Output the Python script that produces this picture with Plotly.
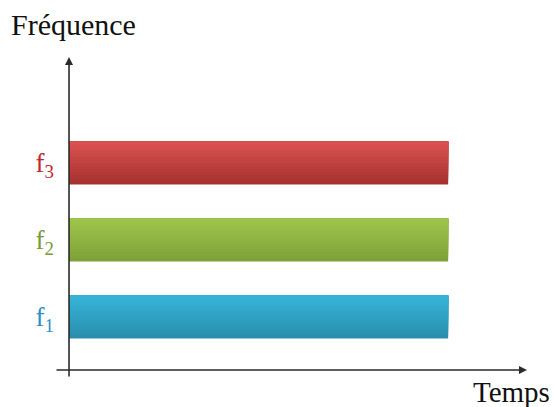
import plotly.graph_objects as go

# data
freqs = ["f1", "f2", "f3"]
freq_pos = [1, 2, 3]
durations = [10, 10, 10]
tick_text = ['<span style="color:#2F8FC4">f<sub>1</sub></span>',
             '<span style="color:#7A9A3A">f<sub>2</sub></span>',
             '<span style="color:#C0262B">f<sub>3</sub></span>']

# gradient ends (top, bottom) for each bar
top_colors = [(0x36, 0xB4, 0xD7), (0x9E, 0xC5, 0x4B), (0xDA, 0x52, 0x50)]
bottom_colors = [(0x2A, 0x8E, 0xAD), (0x7E, 0xA1, 0x38), (0xA6, 0x31, 0x2F)]

serif = "Liberation Serif"
bar_w = 0.56
n_strips = 14


def mix(a, b, t):
    return "rgb(%d,%d,%d)" % tuple(round(a[k] + (b[k] - a[k]) * t) for k in range(3))


fig = go.Figure()
# each layer runs from its own bottom edge up to the top of the bar,
# painted bottom-up so there are no seams between layers
for i in range(n_strips):
    t = 1 - i / (n_strips - 1)
    fig.add_trace(go.Bar(
        x=durations, y=freq_pos, orientation="h",
        width=bar_w * (1 - i / n_strips),
        offset=-bar_w / 2 + i * bar_w / n_strips,
        marker=dict(color=[mix(top, bot, t) for top, bot in zip(top_colors, bottom_colors)],
                    line=dict(width=0)),
        hoverinfo="skip",
    ))

x_rng = [-0.37, 12.08]
y_rng = [0.208, 4.377]
x_axis_y = 0.312

# axis arrows
fig.add_annotation(x=x_rng[1], y=x_axis_y, ax=x_rng[0], ay=x_axis_y,
                   xref="x", yref="y", axref="x", ayref="y",
                   showarrow=True, arrowhead=2, arrowsize=1, arrowwidth=1.6,
                   arrowcolor="#2b2b2b", text="")
fig.add_annotation(x=0, y=y_rng[1], ax=0, ay=y_rng[0],
                   xref="x", yref="y", axref="x", ayref="y",
                   showarrow=True, arrowhead=2, arrowsize=1, arrowwidth=1.6,
                   arrowcolor="#2b2b2b", text="")

fig.add_annotation(text="Fréquence", xref="paper", yref="paper",
                   x=-0.097, y=1.1, xanchor="left", yanchor="middle",
                   showarrow=False, font=dict(family=serif, size=30, color="#111111"))
fig.add_annotation(text="Temps", xref="paper", yref="paper",
                   x=0.881, y=-0.045, xanchor="left", yanchor="middle",
                   showarrow=False, font=dict(family=serif, size=29, color="#111111"))

fig.update_layout(
    width=554, height=407,
    margin=dict(l=55, r=27, t=57, b=29, autoexpand=False),
    plot_bgcolor="white", paper_bgcolor="white",
    showlegend=False,
    barmode="overlay",
    font=dict(family=serif),
    xaxis=dict(range=x_rng, visible=False, fixedrange=True, automargin=False),
    yaxis=dict(range=y_rng, tickvals=freq_pos, ticktext=tick_text,
               showgrid=False, zeroline=False, showline=False, ticks="",
               automargin=False,
               tickfont=dict(family=serif, size=27), fixedrange=True),
)

fig.write_html("out.html", config={"displayModeBar": False},
               post_script="document.body.style.margin='0';")
